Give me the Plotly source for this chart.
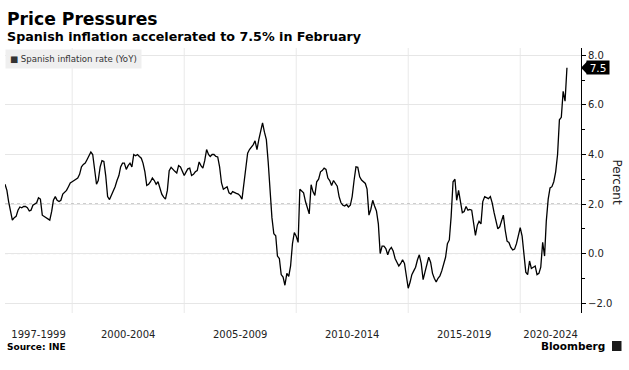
import pandas as pd
import plotly.graph_objects as go

# ---- data (Spanish CPI, YoY %, monthly from Jan 1997) ----
v1997 = [2.8, 2.55, 2.1, 1.65, 1.35, 1.45, 1.5, 1.75, 1.88, 1.85, 1.9, 1.9]
v1998 = [1.85, 1.72, 1.75, 1.95, 2.0, 2.05, 2.25, 2.2, 1.55, 1.5, 1.45, 1.4]
v1999 = [1.35, 1.7, 2.15, 2.3, 2.15, 2.1, 2.15, 2.4, 2.5, 2.55, 2.7, 2.85]
v2000 = [2.9, 2.95, 3.0, 3.05, 3.2, 3.5, 3.6, 3.65, 3.8, 3.95, 4.1, 4.0]
v2001 = [3.45, 2.8, 2.95, 3.5, 3.75, 3.72, 3.15, 2.3, 2.18, 2.35, 2.48, 2.7]
v2002 = [2.95, 3.15, 3.5, 3.65, 3.65, 3.4, 3.55, 3.65, 3.5, 4.0, 3.95, 4.0]
v2003 = [3.92, 3.85, 3.65, 3.3, 2.75, 2.8, 2.9, 3.05, 2.95, 2.8, 2.9, 2.65]
v2004 = [2.4, 2.28, 2.2, 2.55, 3.35, 3.48, 3.42, 3.32, 3.25, 3.55, 3.5, 3.3]
v2005 = [3.15, 3.3, 3.42, 3.45, 3.15, 3.2, 3.3, 3.35, 3.7, 3.55, 3.45, 3.75]
v2006 = [4.2, 4.0, 3.92, 4.0, 4.0, 3.92, 3.9, 3.5, 2.85, 2.6, 2.65, 2.7]
v2007 = [2.45, 2.4, 2.5, 2.45, 2.43, 2.4, 2.33, 2.2, 2.75, 3.5, 4.05, 4.2]
v2008 = [4.3, 4.4, 4.55, 4.2, 4.6, 5.0, 5.28, 4.9, 4.6, 3.7, 2.5, 1.45]
v2009 = [0.8, 0.72, -0.1, -0.2, -0.85, -0.95, -1.28, -0.8, -0.92, -0.5, 0.4, 0.85]
v2010 = [0.7, 0.45, 2.6, 2.5, 2.45, 2.1, 1.85, 1.6, 2.78, 2.5, 2.35, 2.9]
v2011 = [3.0, 3.3, 3.35, 3.45, 3.4, 3.05, 2.95, 2.75, 2.95, 2.85, 2.72, 2.3]
v2012 = [2.05, 1.95, 1.92, 1.98, 1.88, 1.95, 2.3, 2.95, 3.5, 3.48, 3.1, 2.97]
v2013 = [2.9, 2.83, 2.6, 1.55, 1.78, 2.15, 1.92, 1.72, 1.2, 0.0, 0.3, 0.3]
v2014 = [0.2, -0.05, 0.15, 0.25, 0.1, -0.2, -0.35, -0.5, -0.4, -0.25, -0.4, -0.9]
v2015 = [-1.4, -1.15, -0.85, -0.7, -0.55, -0.25, -0.05, -0.4, -1.05, -0.75, -0.45, -0.15]
v2016 = [-0.35, -0.8, -1.0, -1.15, -1.0, -0.9, -0.7, -0.45, -0.15, 0.4, 0.55, 1.5]
v2017 = [2.9, 3.0, 2.15, 2.55, 2.1, 1.65, 1.7, 1.9, 1.75, 1.78, 1.75, 1.3]
v2018 = [0.73, 1.15, 1.3, 1.2, 2.1, 2.3, 2.25, 2.22, 2.3, 2.05, 1.65, 1.38]
v2019 = [1.0, 1.08, 1.3, 1.55, 0.95, 0.5, 0.45, 0.25, 0.15, 0.18, 0.4, 0.8]
v2020 = [1.05, 0.7, 0.0, -0.75, -0.85, -0.3, -0.6, -0.55, -0.5, -0.85, -0.8, -0.55]
v2021 = [0.45, -0.1, 1.3, 2.2, 2.65, 2.7, 2.9, 3.3, 4.0, 5.4, 5.5, 6.55]
v2022 = [6.15, 7.5]

series_name = "Spanish inflation rate (YoY)"
x_labels = ["1997-1999", "2000-2004", "2005-2009", "2010-2014", "2015-2019", "2020-2024"]
period_starts = ["1997-01-01", "2000-01-01", "2005-01-01", "2010-01-01", "2015-01-01", "2020-01-01"]
y_ticks = [-2, 0, 2, 4, 6, 8]
dotted_levels = [0, 2]

values = (v1997 + v1998 + v1999 + v2000 + v2001 + v2002 + v2003 + v2004 + v2005
          + v2006 + v2007 + v2008 + v2009 + v2010 + v2011 + v2012 + v2013 + v2014
          + v2015 + v2016 + v2017 + v2018 + v2019 + v2020 + v2021 + v2022)
dates = pd.date_range(period_starts[0], periods=len(values), freq="MS")

# ---- layout helpers ----
W, H = 629, 370
ML, MR, MT, MB = 5, 48, 48, 57
PW, PH = W - ML - MR, H - MT - MB


def px_x(px):
    return (px - ML) / PW


def px_y(py):
    return (H - MB - py) / PH


x_end = pd.Timestamp("2022-09-18")
bounds = [pd.Timestamp(s) for s in period_starts] + [x_end]
mids = [bounds[i] + (bounds[i + 1] - bounds[i]) / 2 for i in range(len(x_labels))]

FONT = "DejaVu Sans"

fig = go.Figure()
fig.add_trace(go.Scatter(
    x=dates, y=values, mode="lines", name=series_name,
    line=dict(color="#000000", width=1.3), showlegend=False, hoverinfo="skip",
))

# vertical period gridlines
for d in period_starts[1:]:
    fig.add_shape(type="line", xref="x", x0=d, x1=d, yref="paper", y0=0, y1=1,
                  line=dict(color="#e9e9e9", width=1), layer="below")

for lvl in dotted_levels:
    fig.add_shape(type="line", xref="paper", x0=0, x1=1, yref="y", y0=lvl, y1=lvl,
                  line=dict(color="#9a9a9a", width=1, dash="dot"), layer="below")

fig.update_layout(
    width=W, height=H,
    margin=dict(l=ML, r=MR, t=MT, b=MB),
    paper_bgcolor="white", plot_bgcolor="white",
    font=dict(family=FONT, size=10, color="#222222"),
    showlegend=False,
)

fig.update_xaxes(
    range=[dates[0], x_end],
    tickmode="array", tickvals=mids, ticktext=x_labels,
    showgrid=False, zeroline=False, showline=False,
    ticks="outside", ticklen=12, tickcolor="rgba(0,0,0,0)",
    tickfont=dict(family=FONT, size=10, color="#222222"),
)

fig.update_yaxes(
    side="right", range=[-2.4, 8.3],
    tickmode="array", tickvals=y_ticks, tickformat=".1f",
    ticks="outside", ticklen=4, tickwidth=1, tickcolor="#000000",
    showline=True, linecolor="#000000", linewidth=1,
    showgrid=True, gridcolor="#e6e6e6", gridwidth=1, zeroline=False,
    tickfont=dict(family=FONT, size=10, color="#222222"),
    minor=dict(dtick=1, ticks="outside", ticklen=3, tickcolor="#000000", showgrid=False),
)

# Titles
fig.add_annotation(text="<b>Price Pressures</b>", xref="paper", yref="paper",
                   x=0, y=px_y(19.5), xanchor="left", yanchor="middle", showarrow=False,
                   font=dict(family=FONT, size=17.2, color="#000000"))
fig.add_annotation(text="<b>Spanish inflation accelerated to 7.5% in February</b>",
                   xref="paper", yref="paper", x=0, y=px_y(36.8), xanchor="left",
                   yanchor="middle", showarrow=False,
                   font=dict(family=FONT, size=12.7, color="#000000"))

# Legend box
fig.add_annotation(text="■ " + series_name, xref="paper", yref="paper",
                   x=0, y=px_y(58.5), xanchor="left", yanchor="middle", showarrow=False,
                   align="left", bgcolor="#efefef", borderpad=4,
                   font=dict(family=FONT, size=8.6, color="#333333"))

# Last value tag
last_val = values[-1]
fig.add_shape(type="path", xref="paper", yref="y", xsizemode="pixel", ysizemode="pixel",
              xanchor=1, yanchor=last_val, path="M 0 0 L 6 6.2 L 6 -6.2 Z",
              fillcolor="#000000", line=dict(width=0))
fig.add_annotation(text=f"{last_val:.1f}", xref="paper", yref="y", x=1, y=last_val,
                   xanchor="left", yanchor="middle", xshift=5, showarrow=False,
                   bgcolor="#000000", borderpad=1, width=20, height=11,
                   font=dict(family=FONT, size=10.5, color="#ffffff"))

# Axis title
fig.add_annotation(text="Percent", xref="paper", yref="paper", x=px_x(617), y=px_y(181.5),
                   xanchor="center", yanchor="middle", textangle=90, showarrow=False,
                   font=dict(family=FONT, size=12, color="#222222"))

# Footer
fig.add_annotation(text="<b>Source: INE</b>", xref="paper", yref="paper", x=0, y=px_y(347),
                   xanchor="left", yanchor="middle", showarrow=False,
                   font=dict(family=FONT, size=9, color="#000000"))
fig.add_annotation(text="<b>Bloomberg</b>", xref="paper", yref="paper", x=px_x(607), y=px_y(346),
                   xanchor="right", yanchor="middle", showarrow=False,
                   font=dict(family=FONT, size=10.5, color="#000000"))
fig.add_shape(type="rect", xref="paper", yref="paper", x0=px_x(612), x1=px_x(621.5),
              y0=px_y(351), y1=px_y(341), fillcolor="#1a1a1a", line=dict(width=0))

fig.write_html("out.html",
               config={"displayModeBar": False, "staticPlot": True},
               post_script="document.body.style.margin='0px';document.body.style.overflow='hidden';")
